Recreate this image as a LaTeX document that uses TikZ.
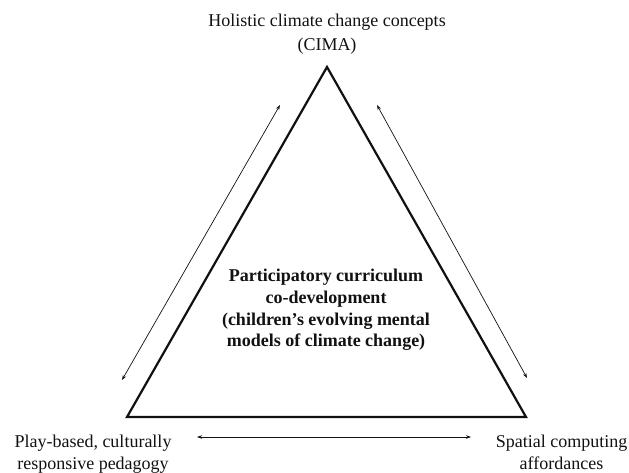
\documentclass[tikz,border=0pt]{standalone}
\usepackage{fontspec}
\setmainfont{Liberation Serif}
\usepackage{tikz}
\usetikzlibrary{positioning,arrows.meta,calc}
\definecolor{cnegro}{HTML}{111111}
\tikzset{
  vertice/.style={align=center, font=\fontsize{18}{22}\selectfont, text=cnegro, inner sep=0pt},
  centro/.style={align=center, font=\fontsize{18}{21.7}\selectfont\bfseries, text=cnegro, inner sep=0pt},
  lado/.style={draw=cnegro, line width=2.2pt, line join=miter},
  flecha/.style={{Stealth[length=5pt,width=3.5pt]}-{Stealth[length=5pt,width=3.5pt]}, draw=cnegro, line width=0.7pt},
}

\begin{document}
\begin{tikzpicture}[x=1pt,y=-1pt]
  \useasboundingbox (0,0) rectangle (629,472);
  % triangle corners
  \coordinate (ap) at (327,67);
  \coordinate (bi) at (127,417);
  \coordinate (bd) at (526,417);
  \draw[lado] (ap) -- (bi) -- (bd) -- cycle;
  % labels
  \node[vertice, font=\fontsize{18}{24}\selectfont] (arriba) at (327,34.5) {Holistic climate change concepts\\(CIMA)};
  \node[vertice] (izq) at (93,454) {Play-based, culturally\\responsive pedagogy};
  \node[vertice] (der) at (561.5,452) {Spatial computing\\affordances};
  \node[centro] (medio) at (326,310) {Participatory curriculum\\co-development\\(children’s evolving mental\\models of climate change)};
  % double arrows beside the sides
  \coordinate (fi1) at (280,105);
  \coordinate (fi2) at (122,380);
  \coordinate (fd1) at (377,105);
  \coordinate (fd2) at (527,378);
  \coordinate (fb1) at (197,437);
  \coordinate (fb2) at (471,437);
  \draw[flecha] (fi1) -- (fi2);
  \draw[flecha] (fd1) -- (fd2);
  \draw[flecha] (fb1) -- (fb2);
\end{tikzpicture}
\end{document}
